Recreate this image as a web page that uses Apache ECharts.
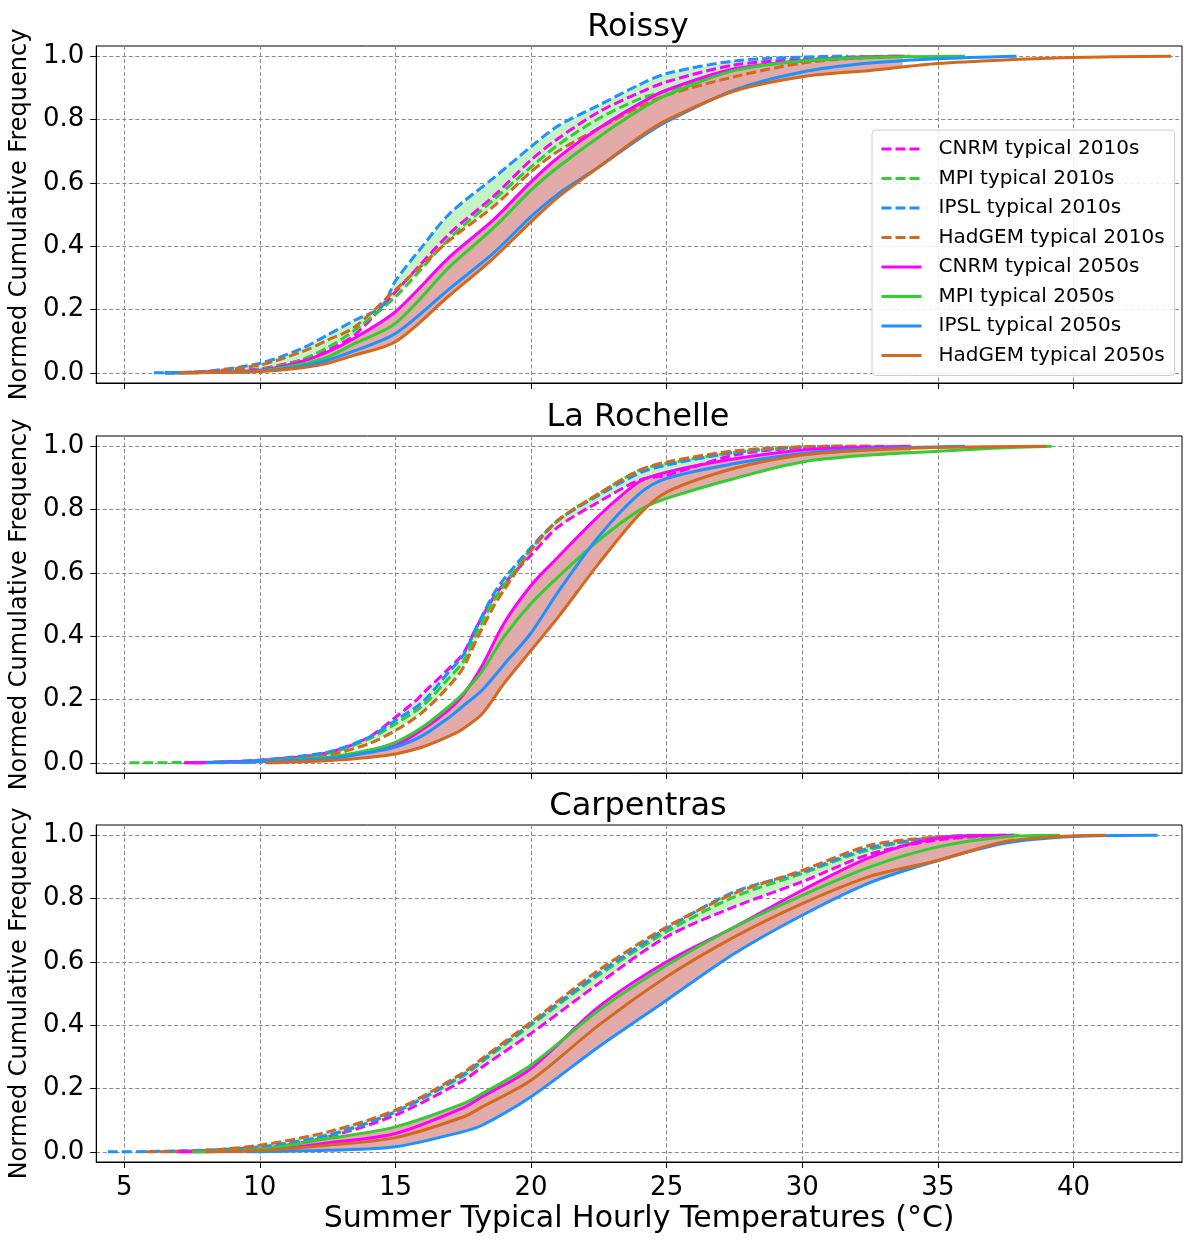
<!DOCTYPE html>
<html><head><meta charset="utf-8">
<script src="https://cdn.jsdelivr.net/npm/echarts@6/dist/echarts.min.js"></script>
<style>html,body{margin:0;padding:0;background:#fff}#chart{width:1184px;height:1240px}</style>
</head><body><div id="chart"></div>
<script>
// ---------- labels / ticks ----------
const panelNames = ['Roissy', 'La Rochelle', 'Carpentras'];
const modelNames = ['CNRM', 'MPI', 'IPSL', 'HadGEM'];
const periodNames = ['2010s', '2050s'];
const xTicks = [5, 10, 15, 20, 25, 30, 35, 40];
const yTicks = [0, 0.2, 0.4, 0.6, 0.8, 1.0];
const xTitle = 'Summer Typical Hourly Temperatures (°C)';
const yTitle = 'Normed Cumulative Frequency';

// ---------- data: [temperature, cumulative frequency] ----------
// Roissy
const roissy_CNRM_2010 = [[6.5,0],[8,0.003],[10,0.013],[11.5,0.04],[12.5,0.072],[13.5,0.12],[15,0.255],[17,0.44],[18.6,0.556],[20,0.672],[21,0.74],[22.5,0.824],[24,0.885],[25,0.919],[27.5,0.972],[30,0.99],[32,0.998],[33.8,1]];
const roissy_MPI_2010 = [[6.5,0],[8,0.002],[10,0.011],[11.5,0.04],[12.5,0.08],[13.5,0.135],[15,0.24],[17,0.425],[18.6,0.545],[20,0.65],[21,0.72],[22.5,0.803],[24,0.865],[25,0.89],[27.5,0.955],[30,0.986],[32,0.997],[34,1]];
const roissy_IPSL_2010 = [[6.1,0],[8,0.005],[10,0.03],[11.5,0.075],[12.5,0.12],[13.5,0.166],[14.5,0.21],[15,0.29],[16,0.4],[17,0.503],[18.6,0.614],[20,0.714],[21,0.78],[22.5,0.845],[24,0.91],[25,0.945],[27.5,0.985],[30,0.997],[31.7,1]];
const roissy_HadGEM_2010 = [[6.5,0],[8,0.004],[10,0.025],[11.5,0.065],[12.5,0.103],[13.5,0.145],[15,0.262],[17,0.419],[18.6,0.524],[20,0.635],[21,0.7],[22.5,0.772],[24,0.84],[25,0.877],[27.5,0.935],[30,0.978],[32,0.994],[33.5,1]];
const roissy_CNRM_2050 = [[6.5,0],[8,0.002],[10,0.008],[11.5,0.035],[12.5,0.066],[13.5,0.11],[15,0.193],[17,0.366],[18.6,0.482],[20,0.603],[21,0.68],[22.5,0.772],[24,0.85],[25,0.893],[27.5,0.96],[30,0.985],[32,0.995],[33.7,1]];
const roissy_MPI_2050 = [[6.5,0],[8,0.001],[10,0.006],[11.5,0.027],[12.5,0.05],[13.5,0.093],[15,0.156],[17,0.335],[18.6,0.456],[20,0.577],[21,0.65],[22.5,0.745],[24,0.83],[25,0.877],[27.5,0.955],[30,0.985],[33,0.997],[36,1]];
const roissy_IPSL_2050 = [[6.5,0],[8,0.001],[10,0.005],[11.5,0.02],[12.5,0.04],[13.5,0.07],[15,0.124],[17,0.266],[18.6,0.377],[20,0.493],[21,0.565],[22.5,0.65],[24,0.74],[25,0.793],[27.5,0.893],[30,0.95],[32.5,0.978],[35,0.992],[37.9,1]];
const roissy_HadGEM_2050 = [[7,0],[8,0.001],[10,0.004],[11.5,0.015],[12.5,0.03],[13.5,0.056],[15,0.098],[17,0.245],[18.6,0.361],[20,0.477],[21,0.555],[22.5,0.65],[24,0.745],[25,0.798],[27.5,0.89],[30,0.935],[32.5,0.955],[35,0.977],[38,0.99],[40,0.996],[43.6,1]];
// La Rochelle
const rochelle_CNRM_2010 = [[7.5,0],[10,0.008],[12.5,0.032],[14,0.08],[15,0.144],[15.8,0.2],[16,0.218],[17,0.3],[17.5,0.345],[18,0.43],[18.6,0.52],[19,0.565],[20,0.656],[21,0.745],[22.5,0.824],[24,0.893],[25,0.908],[27.5,0.972],[30,0.995],[32.5,1]];
const rochelle_MPI_2010 = [[5.2,0],[8,0.002],[10,0.008],[12.5,0.03],[14,0.075],[15,0.123],[16,0.18],[17,0.27],[17.5,0.32],[18,0.41],[18.6,0.51],[19,0.56],[20,0.675],[21,0.766],[22.5,0.85],[24,0.924],[25,0.945],[27.5,0.98],[30,0.997],[31.5,1]];
const rochelle_IPSL_2010 = [[7.8,0],[10,0.009],[12.5,0.034],[14,0.08],[15,0.134],[16,0.192],[17,0.29],[17.5,0.34],[18,0.43],[18.6,0.53],[19,0.58],[20,0.68],[21,0.766],[22.5,0.845],[24,0.915],[25,0.94],[27.5,0.98],[30,0.997],[31.5,1]];
const rochelle_HadGEM_2010 = [[8.5,0],[10,0.005],[12.5,0.024],[14,0.06],[15,0.102],[16,0.16],[17,0.245],[17.5,0.3],[18,0.39],[18.6,0.49],[19,0.545],[20,0.67],[21,0.766],[22.5,0.85],[24,0.924],[25,0.95],[27.5,0.985],[30,0.998],[33,1]];
const rochelle_CNRM_2050 = [[7.2,0],[10,0.005],[12.5,0.015],[14,0.035],[15,0.055],[16,0.105],[17,0.17],[17.5,0.215],[18.2,0.307],[19,0.44],[20,0.56],[21,0.65],[22.5,0.78],[24,0.888],[25,0.918],[27.5,0.96],[30,0.988],[32,0.996],[34,1]];
const rochelle_MPI_2050 = [[9.3,0],[10,0.004],[12.5,0.018],[14,0.04],[15,0.065],[16,0.113],[17,0.18],[17.5,0.22],[18.2,0.29],[19,0.398],[20,0.503],[21,0.587],[22.5,0.703],[24,0.798],[25,0.835],[27.5,0.898],[30,0.95],[32.5,0.972],[35,0.984],[37,0.993],[39.2,1]];
const rochelle_IPSL_2050 = [[8,0],[10,0.004],[12.5,0.014],[14,0.032],[15,0.05],[16,0.086],[17,0.145],[17.5,0.18],[18.2,0.23],[19,0.31],[20,0.41],[21,0.54],[22.5,0.715],[24,0.85],[25,0.898],[27.5,0.945],[30,0.977],[32.5,0.992],[36,1]];
const rochelle_HadGEM_2050 = [[10.2,0],[12.5,0.007],[14,0.017],[15,0.028],[16,0.05],[17,0.085],[17.5,0.108],[18.2,0.155],[19,0.25],[20,0.355],[21,0.46],[22.5,0.63],[24,0.785],[25,0.855],[27.5,0.93],[30,0.972],[32.5,0.988],[35,0.996],[39,1]];
// Carpentras
const carpentras_CNRM_2010 = [[6.9,0],[10,0.01],[12.5,0.047],[15,0.116],[17.5,0.225],[18.2,0.268],[20,0.374],[22.5,0.532],[25,0.679],[27.5,0.774],[30,0.853],[32.5,0.94],[35,0.985],[37.5,1]];
const carpentras_MPI_2010 = [[6.5,0],[10,0.012],[12.5,0.05],[15,0.126],[17.5,0.24],[18.2,0.285],[20,0.4],[22.5,0.558],[25,0.695],[27.5,0.805],[30,0.879],[32.5,0.955],[35,0.992],[38,1]];
const carpentras_IPSL_2010 = [[4.4,0],[7,0.003],[10,0.016],[12.5,0.053],[15,0.126],[17.5,0.244],[18.2,0.29],[20,0.405],[22.5,0.564],[25,0.705],[27.5,0.821],[30,0.884],[32.5,0.96],[35,0.994],[36.5,1]];
const carpentras_HadGEM_2010 = [[5.8,0],[8,0.005],[10,0.021],[12.5,0.063],[15,0.132],[17.5,0.25],[18.2,0.295],[20,0.41],[22.5,0.574],[25,0.71],[27.5,0.816],[30,0.889],[32.5,0.968],[35,0.994],[37,1]];
const carpentras_CNRM_2050 = [[7,0],[10,0.005],[12.5,0.028],[15,0.058],[17.5,0.139],[18.2,0.174],[20,0.263],[22.5,0.458],[25,0.6],[27.5,0.71],[30,0.826],[32.5,0.93],[35,0.99],[37.8,1]];
const carpentras_MPI_2050 = [[7.5,0],[10,0.008],[12.5,0.042],[15,0.079],[17.5,0.152],[18.2,0.184],[20,0.274],[22.5,0.447],[25,0.589],[27.5,0.71],[30,0.81],[32.5,0.9],[35,0.963],[37.5,0.995],[39.5,1]];
const carpentras_IPSL_2050 = [[9.5,0],[12.5,0.005],[15,0.016],[17.5,0.064],[18.2,0.084],[20,0.174],[22.5,0.332],[25,0.479],[27.5,0.626],[30,0.747],[32.5,0.85],[35,0.92],[37.5,0.975],[40,0.996],[43.1,1]];
const carpentras_HadGEM_2050 = [[8,0],[10,0.004],[12.5,0.021],[15,0.045],[17.5,0.11],[18.2,0.142],[20,0.226],[22.5,0.4],[25,0.553],[27.5,0.679],[30,0.784],[32.5,0.87],[35,0.92],[37.5,0.98],[40,0.998],[41.2,1]];

const panelData = [
  [[roissy_CNRM_2010, roissy_MPI_2010, roissy_IPSL_2010, roissy_HadGEM_2010],
   [roissy_CNRM_2050, roissy_MPI_2050, roissy_IPSL_2050, roissy_HadGEM_2050]],
  [[rochelle_CNRM_2010, rochelle_MPI_2010, rochelle_IPSL_2010, rochelle_HadGEM_2010],
   [rochelle_CNRM_2050, rochelle_MPI_2050, rochelle_IPSL_2050, rochelle_HadGEM_2050]],
  [[carpentras_CNRM_2010, carpentras_MPI_2010, carpentras_IPSL_2010, carpentras_HadGEM_2010],
   [carpentras_CNRM_2050, carpentras_MPI_2050, carpentras_IPSL_2050, carpentras_HadGEM_2050]]
];

// ---------- styles ----------
const modelColors = ['#ff00ff', '#32cd32', '#1e90ff', '#d2691e'];
const fillColors = ['#c6f3c6', '#e2aaa8'];
const FONT = 'DejaVu Sans';
const gridTops = [46, 436, 825];
const gridH = 337, gridLeft = 94, gridW = 1088;

function interp(c, x) {
  if (x < c[0][0] || x > c[c.length - 1][0]) return null;
  for (let i = 1; i < c.length; i++) {
    if (x <= c[i][0]) {
      const [x0, y0] = c[i - 1], [x1, y1] = c[i];
      return y0 + (y1 - y0) * (x - x0) / (x1 - x0);
    }
  }
  return c[c.length - 1][1];
}
function bandPolygon(curves) {
  const start = Math.max(...curves.map(c => c[0][0]));
  const end = Math.min(...curves.map(c => c[c.length - 1][0]));
  const lo = [], hi = [];
  const n = 400;
  for (let i = 0; i <= n; i++) {
    const x = start + (end - start) * i / n;
    const ys = curves.map(c => interp(c, x));
    lo.push([x, Math.min(...ys)]);
    hi.push([x, Math.max(...ys)]);
  }
  return hi.concat(lo.reverse());
}

const grids = [], xAxes = [], yAxes = [], series = [];
const gridLine = { show: true, lineStyle: { color: '#8a8a8a', type: [4, 2.5], width: 1 } };
panelData.forEach((groups, p) => {
  grids.push({ left: gridLeft, top: gridTops[p], width: gridW, height: gridH, show: true, borderColor: '#000', borderWidth: 1, backgroundColor: 'transparent' });
  const last = p === panelData.length - 1;
  xAxes.push({
    type: 'value', gridIndex: p, min: 3.97, max: 44.0,
    axisLine: { show: true, onZero: false, lineStyle: { color: '#000', width: 1 } },
    axisTick: { show: true, inside: false, length: 6, customValues: xTicks, lineStyle: { color: '#000' } },
    axisLabel: { show: last, customValues: xTicks, margin: 13, fontSize: 26, fontFamily: FONT, color: '#000' },
    splitLine: gridLine,
    name: last ? xTitle : '', nameLocation: 'middle', nameGap: 42,
    nameTextStyle: { fontSize: 30, fontFamily: FONT, color: '#000' }
  });
  yAxes.push({
    type: 'value', gridIndex: p, min: -0.032, max: 1.032,
    axisLine: { show: true, onZero: false, lineStyle: { color: '#000', width: 1 } },
    axisTick: { show: true, inside: false, length: 6, customValues: yTicks, lineStyle: { color: '#000' } },
    axisLabel: { show: true, customValues: yTicks, margin: 12, fontSize: 26, fontFamily: FONT, color: '#000', formatter: v => v.toFixed(1) },
    splitLine: gridLine,
    name: yTitle, nameLocation: 'middle', nameGap: 59, nameRotate: 90,
    nameTextStyle: { fontSize: 24, fontFamily: FONT, color: '#000' }
  });
  // fills
  groups.forEach((curves, g) => {
    const poly = bandPolygon(curves);
    series.push({
      type: 'custom', xAxisIndex: p, yAxisIndex: p, silent: true, z: 1,
      data: [poly[0]],
      renderItem: (params, api) => ({
        type: 'polygon',
        shape: { points: poly.map(pt => api.coord(pt)) },
        style: { fill: fillColors[g], stroke: null }
      })
    });
  });
  // lines
  groups.forEach((curves, g) => {
    curves.forEach((c, m) => {
      series.push({
        type: 'line', name: modelNames[m] + ' typical ' + periodNames[g],
        xAxisIndex: p, yAxisIndex: p, data: c,
        showSymbol: false, symbol: 'none', smooth: 0.3,
        z: 2 + g, silent: true,
        lineStyle: { color: modelColors[m], width: 3, type: g === 0 ? [10, 4] : 'solid' },
        itemStyle: { color: modelColors[m] },
        emphasis: { disabled: true }
      });
    });
  });
});

const legendNames = [];
periodNames.forEach(per => modelNames.forEach(m => legendNames.push(m + ' typical ' + per)));

const graphics = panelNames.map((t, p) => ({
  type: 'text', x: gridLeft + gridW / 2, y: gridTops[p] - 18, z: 10,
  style: { text: t, fontSize: 32, fontFamily: FONT, fill: '#000', align: 'center', verticalAlign: 'middle' }
}));

const chart = echarts.init(document.getElementById('chart'), null, { renderer: 'canvas' });
chart.setOption({
  animation: false,
  backgroundColor: '#fff',
  grid: grids, xAxis: xAxes, yAxis: yAxes, series: series,
  graphic: graphics,
  legend: {
    data: legendNames, orient: 'vertical', left: 872, top: 130,
    itemWidth: 40, itemHeight: 14, itemGap: 9.5,
    padding: [9, 10, 10, 8],
    itemStyle: { opacity: 0 },
    lineStyle: { width: 3 },
    backgroundColor: 'rgba(255,255,255,0.85)', borderColor: '#cccccc', borderWidth: 1, borderRadius: 4,
    textStyle: { fontSize: 20, fontFamily: FONT, color: '#000', padding: [0, 0, 0, 12] },
    selectedMode: false
  }
});
</script></body></html>
